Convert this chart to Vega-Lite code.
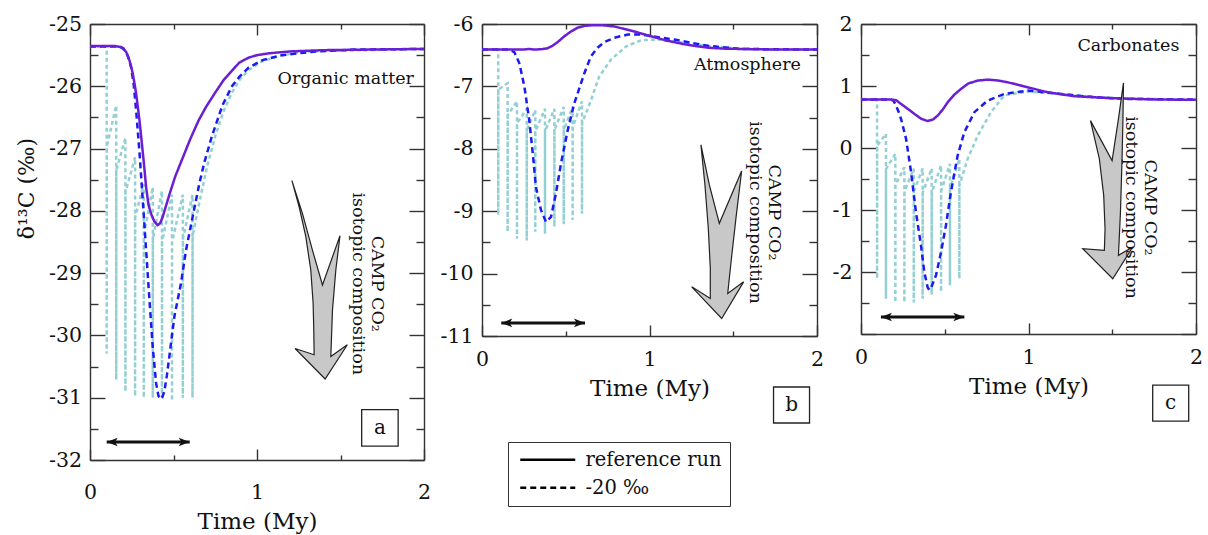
{
  "$schema": "https://vega.github.io/schema/vega-lite/v6.json",
  "background": "white",
  "padding": {"left": 15, "top": 14, "right": 5, "bottom": 0},
  "spacing": 8,
  "config": {
    "font": "DejaVu Serif",
    "view": {"stroke": null},
    "axis": {"domainColor": "#333", "domainWidth": 1.4, "tickColor": "#333", "tickWidth": 1.4, "labelColor": "#111", "labelFont": "DejaVu Serif", "labelFontSize": 20.5, "titleFont": "DejaVu Serif", "titleFontSize": 23, "titleFontWeight": "normal", "titleColor": "#111", "grid": false, "labelOverlap": false, "labelBound": false, "labelFlush": false}
  },
  "hconcat": [
    {
      "width": 334, "height": 436,
      "resolve": {"axis": {"x": "independent", "y": "independent"}},
      "layer": [
        {
          "data": {"values": [
            {"t":0,"v":-25.36},{"t":0.1,"v":-25.36},{"t":0.1,"v":-30.29},{"t":0.1005,"v":-26.97},
            {"t":0.157,"v":-26.31},{"t":0.157,"v":-30.71},{"t":0.1575,"v":-27.35},
            {"t":0.212,"v":-26.83},{"t":0.212,"v":-30.9},{"t":0.2125,"v":-27.7},
            {"t":0.27,"v":-27.14},{"t":0.27,"v":-30.98},{"t":0.2705,"v":-28.1},
            {"t":0.322,"v":-27.57},{"t":0.322,"v":-31.0},{"t":0.3225,"v":-28.4},
            {"t":0.376,"v":-27.62},{"t":0.376,"v":-31.0},{"t":0.3765,"v":-28.45},
            {"t":0.431,"v":-27.68},{"t":0.431,"v":-31.0},{"t":0.4315,"v":-28.5},
            {"t":0.491,"v":-27.74},{"t":0.491,"v":-31.05},{"t":0.4915,"v":-28.5},
            {"t":0.556,"v":-27.74},{"t":0.556,"v":-31.0},{"t":0.5565,"v":-28.45},
            {"t":0.614,"v":-27.74},{"t":0.614,"v":-31.0},{"t":0.6145,"v":-28.4},
            {"t":0.66,"v":-27.8},{"t":0.7,"v":-27.3},{"t":0.75,"v":-26.8},{"t":0.8,"v":-26.4},{"t":0.85,"v":-26.1},
            {"t":0.9,"v":-25.88},{"t":0.95,"v":-25.74},{"t":1.03,"v":-25.6},{"t":1.15,"v":-25.5},{"t":1.3,"v":-25.44},{"t":2,"v":-25.4}
          ]},
          "mark": {"type": "line", "color": "#93d0d3", "strokeWidth": 2.5, "strokeDash": [4, 3]},
          "encoding": {
            "x": {"field": "t", "type": "quantitative", "scale": {"domain": [0, 2], "nice": false, "zero": false},
              "axis": {"orient": "bottom", "values": [0, 0.5, 1, 1.5, 2], "labelExpr": "datum.value % 1 === 0 ? '' + datum.value : ''", "tickSize": {"condition": {"test": "datum.value % 1 === 0", "value": -11}, "value": -5}, "labelPadding": 33, "title": "Time (My)", "titlePadding": 2}},
            "y": {"field": "v", "type": "quantitative", "scale": {"domain": [-32, -25], "nice": false, "zero": false},
              "axis": {"orient": "left", "values": [-32, -31.5, -31, -30.5, -30, -29.5, -29, -28.5, -28, -27.5, -27, -26.5, -26, -25.5, -25], "labelExpr": "datum.value % 1 === 0 ? '' + datum.value : ''", "tickSize": {"condition": {"test": "datum.value % 1 === 0", "value": -15}, "value": -8}, "labelPadding": 23.5, "title": "δ¹³C (‰)", "titleFontSize": 22, "titlePadding": 10, "titleY": 164}}
          }
        },
        {
          "data": {"values": [
            {"run":"-20 ‰","t":0,"v":-25.36},{"run":"-20 ‰","t":0.17,"v":-25.36},{"run":"-20 ‰","t":0.2,"v":-25.39},{"run":"-20 ‰","t":0.225,"v":-25.5},{"run":"-20 ‰","t":0.246,"v":-25.69},{"run":"-20 ‰","t":0.262,"v":-25.98},{"run":"-20 ‰","t":0.276,"v":-26.38},{"run":"-20 ‰","t":0.296,"v":-27.05},{"run":"-20 ‰","t":0.316,"v":-27.83},{"run":"-20 ‰","t":0.336,"v":-28.63},{"run":"-20 ‰","t":0.356,"v":-29.43},{"run":"-20 ‰","t":0.376,"v":-30.2},{"run":"-20 ‰","t":0.396,"v":-30.77},{"run":"-20 ‰","t":0.41,"v":-30.97},{"run":"-20 ‰","t":0.42,"v":-31.02},{"run":"-20 ‰","t":0.432,"v":-31.0},{"run":"-20 ‰","t":0.445,"v":-30.9},{"run":"-20 ‰","t":0.46,"v":-30.65},{"run":"-20 ‰","t":0.475,"v":-30.34},{"run":"-20 ‰","t":0.505,"v":-29.7},{"run":"-20 ‰","t":0.545,"v":-29.16},{"run":"-20 ‰","t":0.575,"v":-28.63},{"run":"-20 ‰","t":0.615,"v":-28.09},{"run":"-20 ‰","t":0.655,"v":-27.56},{"run":"-20 ‰","t":0.685,"v":-27.22},{"run":"-20 ‰","t":0.73,"v":-26.8},{"run":"-20 ‰","t":0.794,"v":-26.3},{"run":"-20 ‰","t":0.85,"v":-26.0},{"run":"-20 ‰","t":0.894,"v":-25.85},{"run":"-20 ‰","t":0.95,"v":-25.7},{"run":"-20 ‰","t":1.033,"v":-25.58},{"run":"-20 ‰","t":1.15,"v":-25.5},{"run":"-20 ‰","t":1.35,"v":-25.44},{"run":"-20 ‰","t":1.6,"v":-25.41},{"run":"-20 ‰","t":2,"v":-25.4},
            {"run":"reference run","t":0,"v":-25.355},{"run":"reference run","t":0.15,"v":-25.355},{"run":"reference run","t":0.186,"v":-25.37},{"run":"reference run","t":0.216,"v":-25.445},{"run":"reference run","t":0.236,"v":-25.58},{"run":"reference run","t":0.256,"v":-25.79},{"run":"reference run","t":0.276,"v":-26.11},{"run":"reference run","t":0.296,"v":-26.54},{"run":"reference run","t":0.312,"v":-26.95},{"run":"reference run","t":0.325,"v":-27.3},{"run":"reference run","t":0.336,"v":-27.62},{"run":"reference run","t":0.35,"v":-27.9},{"run":"reference run","t":0.366,"v":-28.05},{"run":"reference run","t":0.385,"v":-28.17},{"run":"reference run","t":0.405,"v":-28.23},{"run":"reference run","t":0.42,"v":-28.2},{"run":"reference run","t":0.435,"v":-28.1},{"run":"reference run","t":0.455,"v":-27.92},{"run":"reference run","t":0.48,"v":-27.7},{"run":"reference run","t":0.51,"v":-27.45},{"run":"reference run","t":0.555,"v":-27.15},{"run":"reference run","t":0.6,"v":-26.85},{"run":"reference run","t":0.65,"v":-26.55},{"run":"reference run","t":0.695,"v":-26.33},{"run":"reference run","t":0.75,"v":-26.1},{"run":"reference run","t":0.8,"v":-25.9},{"run":"reference run","t":0.85,"v":-25.75},{"run":"reference run","t":0.894,"v":-25.62},{"run":"reference run","t":0.95,"v":-25.54},{"run":"reference run","t":1.0,"v":-25.5},{"run":"reference run","t":1.073,"v":-25.47},{"run":"reference run","t":1.2,"v":-25.44},{"run":"reference run","t":1.4,"v":-25.42},{"run":"reference run","t":1.7,"v":-25.41},{"run":"reference run","t":2,"v":-25.4}
          ]},
          "mark": {"type": "line", "strokeWidth": 2.5},
          "encoding": {
            "x": {"field": "t", "type": "quantitative", "scale": {"domain": [0, 2], "nice": false, "zero": false},
              "axis": {"orient": "top", "values": [0, 0.5, 1, 1.5, 2], "labels": false, "tickSize": {"condition": {"test": "datum.value % 1 === 0", "value": -11}, "value": -5}, "title": null}},
            "y": {"field": "v", "type": "quantitative", "scale": {"domain": [-32, -25], "nice": false, "zero": false},
              "axis": {"orient": "right", "values": [-32, -31.5, -31, -30.5, -30, -29.5, -29, -28.5, -28, -27.5, -27, -26.5, -26, -25.5, -25], "labels": false, "tickSize": {"condition": {"test": "datum.value % 1 === 0", "value": -15}, "value": -8}, "title": null}},
            "color": {"field": "run", "type": "nominal", "scale": {"domain": ["-20 ‰", "reference run"], "range": ["#1a1af2", "#6b1fd4"]}, "legend": null},
            "strokeDash": {"field": "run", "type": "nominal", "scale": {"domain": ["reference run", "-20 ‰"], "range": [[1, 0], [6, 4]]},
              "legend": {"orient": "none", "legendX": 418, "legendY": 418, "title": null, "strokeColor": "#333", "fillColor": "white", "padding": 8, "labelFont": "DejaVu Serif", "labelFontSize": 19.5, "labelColor": "#111", "symbolType": "M-1,0H9", "symbolSize": 121, "symbolStrokeWidth": 2.5, "symbolStrokeColor": "black", "labelOffset": 50, "rowPadding": 7}}
          }
        },
        {
          "data": {"values": [
            {"i":1,"t":1.209,"v":-27.515},{"i":2,"t":1.272,"v":-28.04},{"i":3,"t":1.332,"v":-28.63},{"i":4,"t":1.392,"v":-29.19},{"i":5,"t":1.497,"v":-28.4},{"i":6,"t":1.472,"v":-28.95},{"i":7,"t":1.452,"v":-29.59},{"i":8,"t":1.442,"v":-30.34},{"i":9,"t":1.541,"v":-30.15},{"i":10,"t":1.408,"v":-30.7},{"i":11,"t":1.228,"v":-30.21},{"i":12,"t":1.342,"v":-30.31},{"i":13,"t":1.34,"v":-29.91},{"i":14,"t":1.336,"v":-29.48},{"i":15,"t":1.322,"v":-28.95},{"i":16,"t":1.292,"v":-28.41},{"i":17,"t":1.252,"v":-27.93},{"i":18,"t":1.209,"v":-27.515}
          ]},
          "mark": {"type": "line", "fill": "#c8c8c8", "stroke": "#222", "strokeWidth": 1.2, "strokeJoin": "miter"},
          "encoding": {
            "x": {"field": "t", "type": "quantitative", "scale": {"domain": [0, 2], "nice": false, "zero": false}, "axis": null},
            "y": {"field": "v", "type": "quantitative", "scale": {"domain": [-32, -25], "nice": false, "zero": false}, "axis": null},
            "order": {"field": "i"}
          }
        },
        {
          "data": {"values": [{"t1": 0.1, "t2": 0.597, "v": -31.71}]},
          "layer": [
            {"mark": {"type": "rule", "color": "#111", "strokeWidth": 3},
             "encoding": {"x": {"field": "t1", "type": "quantitative", "scale": {"domain": [0, 2], "nice": false, "zero": false}, "axis": null}, "x2": {"field": "t2"}, "y": {"field": "v", "type": "quantitative", "scale": {"domain": [-32, -25], "nice": false, "zero": false}, "axis": null}}},
            {"mark": {"type": "point", "shape": "M0,0L1.6,-0.62L1.2,0L1.6,0.62Z", "filled": true, "color": "#111", "size": 190, "opacity": 1},
             "encoding": {"x": {"field": "t1", "type": "quantitative", "axis": null}, "y": {"field": "v", "type": "quantitative", "axis": null}}},
            {"mark": {"type": "point", "shape": "M0,0L-1.6,-0.62L-1.2,0L-1.6,0.62Z", "filled": true, "color": "#111", "size": 190, "opacity": 1},
             "encoding": {"x": {"field": "t2", "type": "quantitative", "axis": null}, "y": {"field": "v", "type": "quantitative", "axis": null}}}
          ]
        },
        {
          "data": {"values": [{"t": 1.94, "v": -25.89, "label": "Organic matter"}]},
          "mark": {"type": "text", "align": "right", "baseline": "middle", "fontSize": 17.5, "font": "DejaVu Serif", "color": "#111"},
          "encoding": {"x": {"field": "t", "type": "quantitative", "axis": null}, "y": {"field": "v", "type": "quantitative", "axis": null}, "text": {"field": "label"}}
        },
        {
          "data": {"values": [{"t": 1.72, "v": -29.17, "label": ["CAMP CO₂", "isotopic composition"]}]},
          "mark": {"type": "text", "align": "center", "baseline": "middle", "angle": 90, "fontSize": 17.5, "lineHeight": 19, "font": "DejaVu Serif", "color": "#111"},
          "encoding": {"x": {"field": "t", "type": "quantitative", "axis": null}, "y": {"field": "v", "type": "quantitative", "axis": null}, "text": {"field": "label"}}
        },
        {
          "data": {"values": [{"t": 1.736, "v": -31.485, "label": "a"}]},
          "layer": [
            {"mark": {"type": "point", "shape": "square", "size": 1330, "filled": false, "color": "#222", "strokeWidth": 1.3, "opacity": 1},
             "encoding": {"x": {"field": "t", "type": "quantitative", "axis": null}, "y": {"field": "v", "type": "quantitative", "axis": null}}},
            {"mark": {"type": "text", "align": "center", "baseline": "middle", "fontSize": 20, "font": "DejaVu Serif", "color": "#111"},
             "encoding": {"x": {"field": "t", "type": "quantitative", "axis": null}, "y": {"field": "v", "type": "quantitative", "axis": null}, "text": {"field": "label"}}}
          ]
        }
      ]
    },
    {
      "width": 335, "height": 312,
      "resolve": {"axis": {"x": "independent", "y": "independent"}},
      "layer": [
        {
          "data": {"values": [
            {"t":0,"v":-6.41},{"t":0.097,"v":-6.41},{"t":0.097,"v":-9.06},{"t":0.0975,"v":-7.05},
            {"t":0.153,"v":-6.95},{"t":0.153,"v":-9.33},{"t":0.1535,"v":-7.46},
            {"t":0.209,"v":-7.24},{"t":0.209,"v":-9.44},{"t":0.2095,"v":-7.59},
            {"t":0.267,"v":-7.36},{"t":0.267,"v":-9.47},{"t":0.2675,"v":-7.7},
            {"t":0.318,"v":-7.38},{"t":0.318,"v":-9.33},{"t":0.3185,"v":-7.72},
            {"t":0.376,"v":-7.36},{"t":0.376,"v":-9.36},{"t":0.3765,"v":-7.72},
            {"t":0.432,"v":-7.36},{"t":0.432,"v":-9.25},{"t":0.4325,"v":-7.7},
            {"t":0.488,"v":-7.33},{"t":0.488,"v":-9.21},{"t":0.4885,"v":-7.7},
            {"t":0.541,"v":-7.33},{"t":0.541,"v":-9.14},{"t":0.5415,"v":-7.65},
            {"t":0.597,"v":-7.24},{"t":0.597,"v":-9.04},{"t":0.5975,"v":-7.59},
            {"t":0.651,"v":-7.22},{"t":0.7,"v":-6.84},{"t":0.77,"v":-6.57},{"t":0.86,"v":-6.36},{"t":0.95,"v":-6.26},{"t":1.05,"v":-6.25},{"t":1.148,"v":-6.28},{"t":1.35,"v":-6.35},{"t":1.55,"v":-6.4},{"t":2,"v":-6.41}
          ]},
          "mark": {"type": "line", "color": "#93d0d3", "strokeWidth": 2.5, "strokeDash": [4, 3]},
          "encoding": {
            "x": {"field": "t", "type": "quantitative", "scale": {"domain": [0, 2], "nice": false, "zero": false},
              "axis": {"orient": "bottom", "values": [0, 0.5, 1, 1.5, 2], "labelExpr": "datum.value % 1 === 0 ? '' + datum.value : ''", "tickSize": {"condition": {"test": "datum.value % 1 === 0", "value": -11}, "value": -5}, "labelPadding": 24, "title": "Time (My)", "titlePadding": 2}},
            "y": {"field": "v", "type": "quantitative", "scale": {"domain": [-11, -6], "nice": false, "zero": false},
              "axis": {"orient": "left", "values": [-11, -10.5, -10, -9.5, -9, -8.5, -8, -7.5, -7, -6.5, -6], "labelExpr": "datum.value % 1 === 0 ? '' + datum.value : ''", "tickSize": {"condition": {"test": "datum.value % 1 === 0", "value": -15}, "value": -8}, "labelPadding": 24, "title": null}}
          }
        },
        {
          "data": {"values": [
            {"run":"-20 ‰","t":0,"v":-6.41},{"run":"-20 ‰","t":0.16,"v":-6.41},{"run":"-20 ‰","t":0.193,"v":-6.45},{"run":"-20 ‰","t":0.223,"v":-6.63},{"run":"-20 ‰","t":0.253,"v":-7.0},{"run":"-20 ‰","t":0.282,"v":-7.54},{"run":"-20 ‰","t":0.303,"v":-8.07},{"run":"-20 ‰","t":0.322,"v":-8.61},{"run":"-20 ‰","t":0.352,"v":-8.98},{"run":"-20 ‰","t":0.382,"v":-9.17},{"run":"-20 ‰","t":0.412,"v":-9.09},{"run":"-20 ‰","t":0.442,"v":-8.71},{"run":"-20 ‰","t":0.472,"v":-8.23},{"run":"-20 ‰","t":0.512,"v":-7.7},{"run":"-20 ‰","t":0.551,"v":-7.27},{"run":"-20 ‰","t":0.611,"v":-6.79},{"run":"-20 ‰","t":0.65,"v":-6.52},{"run":"-20 ‰","t":0.69,"v":-6.38},{"run":"-20 ‰","t":0.73,"v":-6.29},{"run":"-20 ‰","t":0.79,"v":-6.22},{"run":"-20 ‰","t":0.87,"v":-6.17},{"run":"-20 ‰","t":0.95,"v":-6.17},{"run":"-20 ‰","t":1.0,"v":-6.19},{"run":"-20 ‰","t":1.148,"v":-6.25},{"run":"-20 ‰","t":1.347,"v":-6.35},{"run":"-20 ‰","t":1.546,"v":-6.4},{"run":"-20 ‰","t":2,"v":-6.41},
            {"run":"reference run","t":0,"v":-6.41},{"run":"reference run","t":0.25,"v":-6.41},{"run":"reference run","t":0.28,"v":-6.4},{"run":"reference run","t":0.31,"v":-6.41},{"run":"reference run","t":0.352,"v":-6.405},{"run":"reference run","t":0.39,"v":-6.39},{"run":"reference run","t":0.42,"v":-6.35},{"run":"reference run","t":0.452,"v":-6.29},{"run":"reference run","t":0.49,"v":-6.2},{"run":"reference run","t":0.531,"v":-6.12},{"run":"reference run","t":0.57,"v":-6.06},{"run":"reference run","t":0.611,"v":-6.03},{"run":"reference run","t":0.66,"v":-6.02},{"run":"reference run","t":0.72,"v":-6.02},{"run":"reference run","t":0.79,"v":-6.04},{"run":"reference run","t":0.85,"v":-6.08},{"run":"reference run","t":0.91,"v":-6.12},{"run":"reference run","t":0.999,"v":-6.19},{"run":"reference run","t":1.108,"v":-6.27},{"run":"reference run","t":1.2,"v":-6.32},{"run":"reference run","t":1.268,"v":-6.35},{"run":"reference run","t":1.35,"v":-6.38},{"run":"reference run","t":1.447,"v":-6.395},{"run":"reference run","t":1.745,"v":-6.41},{"run":"reference run","t":2,"v":-6.41}
          ]},
          "mark": {"type": "line", "strokeWidth": 2.5},
          "encoding": {
            "x": {"field": "t", "type": "quantitative", "scale": {"domain": [0, 2], "nice": false, "zero": false},
              "axis": {"orient": "top", "values": [0, 0.5, 1, 1.5, 2], "labels": false, "tickSize": {"condition": {"test": "datum.value % 1 === 0", "value": -11}, "value": -5}, "title": null}},
            "y": {"field": "v", "type": "quantitative", "scale": {"domain": [-11, -6], "nice": false, "zero": false},
              "axis": {"orient": "right", "values": [-11, -10.5, -10, -9.5, -9, -8.5, -8, -7.5, -7, -6.5, -6], "labels": false, "tickSize": {"condition": {"test": "datum.value % 1 === 0", "value": -15}, "value": -8}, "title": null}},
            "color": {"field": "run", "type": "nominal", "scale": {"domain": ["-20 ‰", "reference run"], "range": ["#1a1af2", "#6b1fd4"]}, "legend": null},
            "strokeDash": {"field": "run", "type": "nominal", "scale": {"domain": ["reference run", "-20 ‰"], "range": [[1, 0], [6, 4]]},
              "legend": {"orient": "none", "legendX": 418, "legendY": 418, "title": null, "strokeColor": "#333", "fillColor": "white", "padding": 8, "labelFont": "DejaVu Serif", "labelFontSize": 19.5, "labelColor": "#111", "symbolType": "M-1,0H9", "symbolSize": 121, "symbolStrokeWidth": 2.5, "symbolStrokeColor": "black", "labelOffset": 50, "rowPadding": 7}}
          }
        },
        {
          "data": {"values": [
            {"i":1,"t":1.307,"v":-7.937},{"i":2,"t":1.357,"v":-8.575},{"i":3,"t":1.417,"v":-9.194},{"i":4,"t":1.55,"v":-8.355},{"i":5,"t":1.516,"v":-9.114},{"i":6,"t":1.487,"v":-9.81},{"i":7,"t":1.467,"v":-10.318},{"i":8,"t":1.562,"v":-10.132},{"i":9,"t":1.431,"v":-10.719},{"i":10,"t":1.252,"v":-10.212},{"i":11,"t":1.363,"v":-10.398},{"i":12,"t":1.363,"v":-9.916},{"i":13,"t":1.351,"v":-9.274},{"i":14,"t":1.331,"v":-8.579},{"i":15,"t":1.307,"v":-7.937}
          ]},
          "mark": {"type": "line", "fill": "#c8c8c8", "stroke": "#222", "strokeWidth": 1.2, "strokeJoin": "miter"},
          "encoding": {
            "x": {"field": "t", "type": "quantitative", "scale": {"domain": [0, 2], "nice": false, "zero": false}, "axis": null},
            "y": {"field": "v", "type": "quantitative", "scale": {"domain": [-11, -6], "nice": false, "zero": false}, "axis": null},
            "order": {"field": "i"}
          }
        },
        {
          "data": {"values": [{"t1": 0.115, "t2": 0.615, "v": -10.79}]},
          "layer": [
            {"mark": {"type": "rule", "color": "#111", "strokeWidth": 3},
             "encoding": {"x": {"field": "t1", "type": "quantitative", "scale": {"domain": [0, 2], "nice": false, "zero": false}, "axis": null}, "x2": {"field": "t2"}, "y": {"field": "v", "type": "quantitative", "scale": {"domain": [-11, -6], "nice": false, "zero": false}, "axis": null}}},
            {"mark": {"type": "point", "shape": "M0,0L1.6,-0.62L1.2,0L1.6,0.62Z", "filled": true, "color": "#111", "size": 190, "opacity": 1},
             "encoding": {"x": {"field": "t1", "type": "quantitative", "axis": null}, "y": {"field": "v", "type": "quantitative", "axis": null}}},
            {"mark": {"type": "point", "shape": "M0,0L-1.6,-0.62L-1.2,0L-1.6,0.62Z", "filled": true, "color": "#111", "size": 190, "opacity": 1},
             "encoding": {"x": {"field": "t2", "type": "quantitative", "axis": null}, "y": {"field": "v", "type": "quantitative", "axis": null}}}
          ]
        },
        {
          "data": {"values": [{"t": 1.904, "v": -6.66, "label": "Atmosphere"}]},
          "mark": {"type": "text", "align": "right", "baseline": "middle", "fontSize": 17.5, "font": "DejaVu Serif", "color": "#111"},
          "encoding": {"x": {"field": "t", "type": "quantitative", "axis": null}, "y": {"field": "v", "type": "quantitative", "axis": null}, "text": {"field": "label"}}
        },
        {
          "data": {"values": [{"t": 1.746, "v": -9.02, "label": ["CAMP CO₂", "isotopic composition"]}]},
          "mark": {"type": "text", "align": "center", "baseline": "middle", "angle": 90, "fontSize": 17.5, "lineHeight": 19, "font": "DejaVu Serif", "color": "#111"},
          "encoding": {"x": {"field": "t", "type": "quantitative", "axis": null}, "y": {"field": "v", "type": "quantitative", "axis": null}, "text": {"field": "label"}}
        },
        {
          "data": {"values": [{"t": 1.848, "v": -12.106, "label": "b"}]},
          "layer": [
            {"mark": {"type": "point", "shape": "square", "size": 1296, "filled": false, "color": "#222", "strokeWidth": 1.3, "opacity": 1},
             "encoding": {"x": {"field": "t", "type": "quantitative", "axis": null}, "y": {"field": "v", "type": "quantitative", "axis": null}}},
            {"mark": {"type": "text", "align": "center", "baseline": "middle", "fontSize": 20, "font": "DejaVu Serif", "color": "#111"},
             "encoding": {"x": {"field": "t", "type": "quantitative", "axis": null}, "y": {"field": "v", "type": "quantitative", "axis": null}, "text": {"field": "label"}}}
          ]
        }
      ]
    },
    {
      "width": 335, "height": 310,
      "resolve": {"axis": {"x": "independent", "y": "independent"}},
      "layer": [
        {
          "data": {"values": [
            {"t":0,"v":0.781},{"t":0.096,"v":0.781},{"t":0.096,"v":-2.107},{"t":0.0965,"v":0.04},
            {"t":0.149,"v":0.228},{"t":0.149,"v":-2.43},{"t":0.1495,"v":-0.336},
            {"t":0.205,"v":-0.094},{"t":0.205,"v":-2.49},{"t":0.2055,"v":-0.6},
            {"t":0.259,"v":-0.31},{"t":0.259,"v":-2.49},{"t":0.2595,"v":-0.7},
            {"t":0.315,"v":-0.336},{"t":0.315,"v":-2.49},{"t":0.3155,"v":-0.7},
            {"t":0.368,"v":-0.33},{"t":0.368,"v":-2.43},{"t":0.3685,"v":-0.72},
            {"t":0.422,"v":-0.33},{"t":0.422,"v":-2.365},{"t":0.4225,"v":-0.72},
            {"t":0.478,"v":-0.28},{"t":0.478,"v":-2.32},{"t":0.4785,"v":-0.7},
            {"t":0.531,"v":-0.255},{"t":0.531,"v":-2.215},{"t":0.5315,"v":-0.65},
            {"t":0.587,"v":-0.175},{"t":0.587,"v":-2.107},{"t":0.5875,"v":-0.6},
            {"t":0.637,"v":-0.175},{"t":0.697,"v":0.2},{"t":0.776,"v":0.578},{"t":0.856,"v":0.85},{"t":0.995,"v":0.91},{"t":1.2,"v":0.87},{"t":1.4,"v":0.82},{"t":1.6,"v":0.795},{"t":2,"v":0.78}
          ]},
          "mark": {"type": "line", "color": "#93d0d3", "strokeWidth": 2.5, "strokeDash": [4, 3]},
          "encoding": {
            "x": {"field": "t", "type": "quantitative", "scale": {"domain": [0, 2], "nice": false, "zero": false},
              "axis": {"orient": "bottom", "values": [0, 0.5, 1, 1.5, 2], "labelExpr": "datum.value % 1 === 0 ? '' + datum.value : ''", "tickSize": {"condition": {"test": "datum.value % 1 === 0", "value": -11}, "value": -5}, "labelPadding": 24, "title": "Time (My)", "titlePadding": 2}},
            "y": {"field": "v", "type": "quantitative", "scale": {"domain": [-3, 2], "nice": false, "zero": false},
              "axis": {"orient": "left", "values": [-3, -2.5, -2, -1.5, -1, -0.5, 0, 0.5, 1, 1.5, 2], "labelExpr": "datum.value % 1 === 0 && datum.value > -3 ? '' + datum.value : ''", "tickSize": {"condition": {"test": "datum.value % 1 === 0", "value": -15}, "value": -8}, "labelPadding": 24, "title": null}}
          }
        },
        {
          "data": {"values": [
            {"run":"-20 ‰","t":0,"v":0.781},{"run":"-20 ‰","t":0.18,"v":0.781},{"run":"-20 ‰","t":0.195,"v":0.76},{"run":"-20 ‰","t":0.209,"v":0.684},{"run":"-20 ‰","t":0.225,"v":0.58},{"run":"-20 ‰","t":0.239,"v":0.47},{"run":"-20 ‰","t":0.269,"v":0.148},{"run":"-20 ‰","t":0.299,"v":-0.389},{"run":"-20 ‰","t":0.328,"v":-1.033},{"run":"-20 ‰","t":0.358,"v":-1.571},{"run":"-20 ‰","t":0.378,"v":-2.0},{"run":"-20 ‰","t":0.398,"v":-2.25},{"run":"-20 ‰","t":0.408,"v":-2.29},{"run":"-20 ‰","t":0.418,"v":-2.26},{"run":"-20 ‰","t":0.448,"v":-2.05},{"run":"-20 ‰","t":0.478,"v":-1.678},{"run":"-20 ‰","t":0.507,"v":-1.249},{"run":"-20 ‰","t":0.537,"v":-0.711},{"run":"-20 ‰","t":0.577,"v":-0.121},{"run":"-20 ‰","t":0.617,"v":0.255},{"run":"-20 ‰","t":0.677,"v":0.578},{"run":"-20 ‰","t":0.756,"v":0.765},{"run":"-20 ‰","t":0.856,"v":0.872},{"run":"-20 ‰","t":0.995,"v":0.926},{"run":"-20 ‰","t":1.194,"v":0.872},{"run":"-20 ‰","t":1.393,"v":0.819},{"run":"-20 ‰","t":1.592,"v":0.792},{"run":"-20 ‰","t":2,"v":0.78},
            {"run":"reference run","t":0,"v":0.781},{"run":"reference run","t":0.18,"v":0.781},{"run":"reference run","t":0.21,"v":0.77},{"run":"reference run","t":0.239,"v":0.711},{"run":"reference run","t":0.28,"v":0.63},{"run":"reference run","t":0.319,"v":0.55},{"run":"reference run","t":0.36,"v":0.47},{"run":"reference run","t":0.398,"v":0.435},{"run":"reference run","t":0.43,"v":0.46},{"run":"reference run","t":0.458,"v":0.523},{"run":"reference run","t":0.488,"v":0.62},{"run":"reference run","t":0.518,"v":0.739},{"run":"reference run","t":0.557,"v":0.86},{"run":"reference run","t":0.597,"v":0.953},{"run":"reference run","t":0.64,"v":1.04},{"run":"reference run","t":0.697,"v":1.087},{"run":"reference run","t":0.756,"v":1.103},{"run":"reference run","t":0.816,"v":1.09},{"run":"reference run","t":0.876,"v":1.06},{"run":"reference run","t":0.935,"v":1.02},{"run":"reference run","t":0.995,"v":0.98},{"run":"reference run","t":1.114,"v":0.899},{"run":"reference run","t":1.274,"v":0.835},{"run":"reference run","t":1.493,"v":0.803},{"run":"reference run","t":1.791,"v":0.781},{"run":"reference run","t":2,"v":0.779}
          ]},
          "mark": {"type": "line", "strokeWidth": 2.5},
          "encoding": {
            "x": {"field": "t", "type": "quantitative", "scale": {"domain": [0, 2], "nice": false, "zero": false},
              "axis": {"orient": "top", "values": [0, 0.5, 1, 1.5, 2], "labels": false, "tickSize": {"condition": {"test": "datum.value % 1 === 0", "value": -11}, "value": -5}, "title": null}},
            "y": {"field": "v", "type": "quantitative", "scale": {"domain": [-3, 2], "nice": false, "zero": false},
              "axis": {"orient": "right", "values": [-3, -2.5, -2, -1.5, -1, -0.5, 0, 0.5, 1, 1.5, 2], "labels": false, "tickSize": {"condition": {"test": "datum.value % 1 === 0", "value": -15}, "value": -8}, "title": null}},
            "color": {"field": "run", "type": "nominal", "scale": {"domain": ["-20 ‰", "reference run"], "range": ["#1a1af2", "#6b1fd4"]}, "legend": null},
            "strokeDash": {"field": "run", "type": "nominal", "scale": {"domain": ["reference run", "-20 ‰"], "range": [[1, 0], [6, 4]]},
              "legend": {"orient": "none", "legendX": 418, "legendY": 418, "title": null, "strokeColor": "#333", "fillColor": "white", "padding": 8, "labelFont": "DejaVu Serif", "labelFontSize": 19.5, "labelColor": "#111", "symbolType": "M-1,0H9", "symbolSize": 121, "symbolStrokeWidth": 2.5, "symbolStrokeColor": "black", "labelOffset": 50, "rowPadding": 7}}
          }
        },
        {
          "data": {"values": [
            {"i":1,"t":1.567,"v":1.05},{"i":2,"t":1.537,"v":0.47},{"i":3,"t":1.499,"v":-0.202},{"i":4,"t":1.37,"v":0.442},{"i":5,"t":1.423,"v":-0.175},{"i":6,"t":1.449,"v":-0.766},{"i":7,"t":1.457,"v":-1.302},{"i":8,"t":1.453,"v":-1.651},{"i":9,"t":1.324,"v":-1.624},{"i":10,"t":1.503,"v":-2.108},{"i":11,"t":1.622,"v":-1.598},{"i":12,"t":1.537,"v":-1.732},{"i":13,"t":1.549,"v":-1.034},{"i":14,"t":1.558,"v":-0.228},{"i":15,"t":1.564,"v":0.47},{"i":16,"t":1.567,"v":1.05}
          ]},
          "mark": {"type": "line", "fill": "#c8c8c8", "stroke": "#222", "strokeWidth": 1.2, "strokeJoin": "miter"},
          "encoding": {
            "x": {"field": "t", "type": "quantitative", "scale": {"domain": [0, 2], "nice": false, "zero": false}, "axis": null},
            "y": {"field": "v", "type": "quantitative", "scale": {"domain": [-3, 2], "nice": false, "zero": false}, "axis": null},
            "order": {"field": "i"}
          }
        },
        {
          "data": {"values": [{"t1": 0.119, "t2": 0.617, "v": -2.725}]},
          "layer": [
            {"mark": {"type": "rule", "color": "#111", "strokeWidth": 3},
             "encoding": {"x": {"field": "t1", "type": "quantitative", "scale": {"domain": [0, 2], "nice": false, "zero": false}, "axis": null}, "x2": {"field": "t2"}, "y": {"field": "v", "type": "quantitative", "scale": {"domain": [-3, 2], "nice": false, "zero": false}, "axis": null}}},
            {"mark": {"type": "point", "shape": "M0,0L1.6,-0.62L1.2,0L1.6,0.62Z", "filled": true, "color": "#111", "size": 190, "opacity": 1},
             "encoding": {"x": {"field": "t1", "type": "quantitative", "axis": null}, "y": {"field": "v", "type": "quantitative", "axis": null}}},
            {"mark": {"type": "point", "shape": "M0,0L-1.6,-0.62L-1.2,0L-1.6,0.62Z", "filled": true, "color": "#111", "size": 190, "opacity": 1},
             "encoding": {"x": {"field": "t2", "type": "quantitative", "axis": null}, "y": {"field": "v", "type": "quantitative", "axis": null}}}
          ]
        },
        {
          "data": {"values": [{"t": 1.901, "v": 1.641, "label": "Carbonates"}]},
          "mark": {"type": "text", "align": "right", "baseline": "middle", "fontSize": 17.5, "font": "DejaVu Serif", "color": "#111"},
          "encoding": {"x": {"field": "t", "type": "quantitative", "axis": null}, "y": {"field": "v", "type": "quantitative", "axis": null}, "text": {"field": "label"}}
        },
        {
          "data": {"values": [{"t": 1.726, "v": -0.96, "label": ["CAMP CO₂", "isotopic composition"]}]},
          "mark": {"type": "text", "align": "center", "baseline": "middle", "angle": 90, "fontSize": 17.5, "lineHeight": 19, "font": "DejaVu Serif", "color": "#111"},
          "encoding": {"x": {"field": "t", "type": "quantitative", "axis": null}, "y": {"field": "v", "type": "quantitative", "axis": null}, "text": {"field": "label"}}
        },
        {
          "data": {"values": [{"t": 1.849, "v": -4.116, "label": "c"}]},
          "layer": [
            {"mark": {"type": "point", "shape": "square", "size": 1296, "filled": false, "color": "#222", "strokeWidth": 1.3, "opacity": 1},
             "encoding": {"x": {"field": "t", "type": "quantitative", "axis": null}, "y": {"field": "v", "type": "quantitative", "axis": null}}},
            {"mark": {"type": "text", "align": "center", "baseline": "middle", "fontSize": 20, "font": "DejaVu Serif", "color": "#111"},
             "encoding": {"x": {"field": "t", "type": "quantitative", "axis": null}, "y": {"field": "v", "type": "quantitative", "axis": null}, "text": {"field": "label"}}}
          ]
        }
      ]
    }
  ]
}
